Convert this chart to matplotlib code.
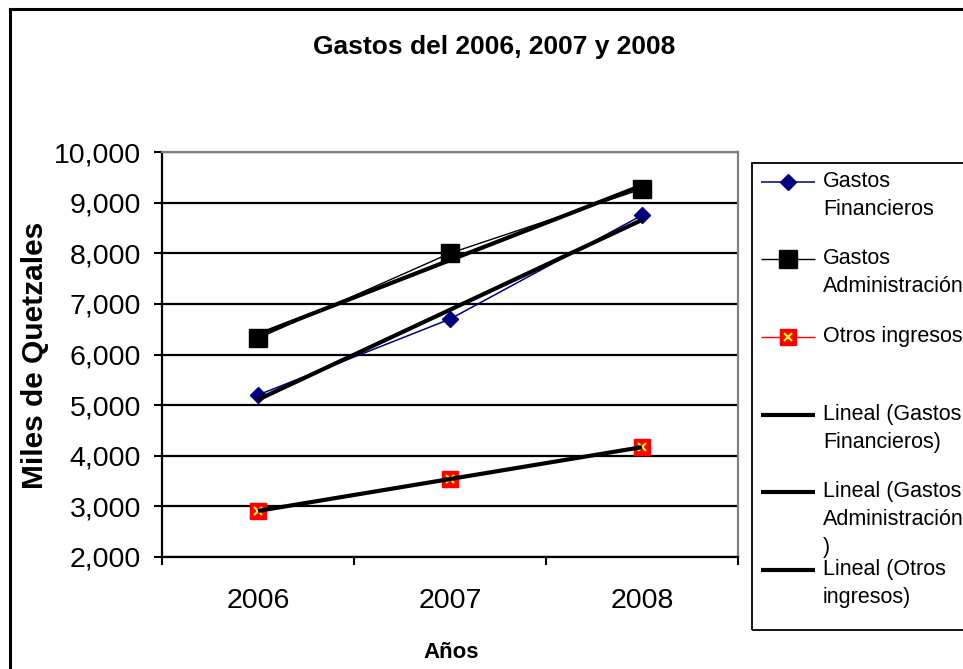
import numpy as np
import matplotlib
matplotlib.use('Agg')
import matplotlib.pyplot as plt
from matplotlib.lines import Line2D
from matplotlib.patches import Rectangle

plt.rcParams['font.family'] = ['Liberation Sans', 'DejaVu Sans']

# data (miles de quetzales)
years = ['2006', '2007', '2008']
gastos_financieros = [5200, 6700, 8750]
gastos_admin = [6320, 8000, 9270]
otros_ingresos = [2910, 3540, 4170]

yticks = list(range(2000, 10001, 1000))

W, H = 963, 669
fig = plt.figure(figsize=(W / 100, H / 100), dpi=100)

def fx(px):
    return px / W

def fy(py):
    return 1 - py / H

ax = fig.add_axes([fx(162), fy(557), fx(738) - fx(162), fy(152) - fy(557)])
x = np.arange(1, len(years) + 1)

# series
ax.plot(x, gastos_financieros, color='#000080', lw=1.1, marker='D', ms=8.5, zorder=3)
ax.plot(x, gastos_admin, color='black', lw=1.0, marker='s', ms=13, zorder=3)
ax.plot(x, otros_ingresos, color='red', lw=1.0, marker='s', ms=12,
        markerfacecolor='red', markeredgecolor='red', zorder=3)
ax.plot(x, otros_ingresos, ls='none', marker='x', ms=6, mew=1.5, color='yellow', zorder=4)

# linear trend lines
for serie in [gastos_financieros, gastos_admin, otros_ingresos]:
    m, b = np.polyfit(x, serie, 1)
    ax.plot(x, m * x + b, color='black', lw=3.0, zorder=5, solid_capstyle='butt')

ax.set_xlim(0.5, 3.5)
ax.set_ylim(2000, 10000)
ax.set_yticks(yticks)
ax.set_yticklabels([f'{v:,}' for v in yticks])
ax.set_xticks(x)
ax.set_xticklabels(years)
ax.set_xticks(np.arange(0.5, 3.6, 1.0), minor=True)

ax.yaxis.grid(True, color='black', lw=1.6)
ax.set_axisbelow(True)
ax.tick_params(axis='y', length=6, width=1.5, pad=9, labelsize=20.5)
ax.tick_params(axis='x', which='major', length=0, pad=22, labelsize=20.5)
ax.tick_params(axis='x', which='minor', length=6, width=1.5)

for s in ['left', 'bottom']:
    ax.spines[s].set_color('black')
    ax.spines[s].set_linewidth(1.6)
for s in ['top', 'right']:
    ax.spines[s].set_color('#808080')
    ax.spines[s].set_linewidth(1.6)

# titles
fig.text(fx(494), fy(47), 'Gastos del 2006, 2007 y 2008', ha='center', va='center',
         fontsize=19, fontweight='bold')
fig.text(fx(35), fy(355), 'Miles de Quetzales', rotation=90, ha='center', va='center',
         fontsize=21.5, fontweight='bold')
fig.text(fx(451), fy(653), 'Años', ha='center', va='center', fontsize=16, fontweight='bold')

# outer chart border
fig.add_artist(Line2D([fx(10), fx(10)], [fy(9), 0], transform=fig.transFigure, color='black', lw=2.2))
fig.add_artist(Line2D([fx(10), 1], [fy(9), fy(9)], transform=fig.transFigure, color='black', lw=2.2))

# legend box
fig.add_artist(Rectangle((fx(752), fy(630)), 0.3, fy(163) - fy(630), transform=fig.transFigure,
                         fill=False, edgecolor='black', lw=1.3))

labels = ['Gastos\nFinancieros', 'Gastos\nAdministración', 'Otros ingresos',
          'Lineal (Gastos\nFinancieros)', 'Lineal (Gastos\nAdministración\n)',
          'Lineal (Otros\ningresos)']
handle_y = [182, 259, 337, 415, 492, 570]
styles = [
    dict(color='#000080', lw=1.1, marker='D', ms=8.5),
    dict(color='black', lw=1.0, marker='s', ms=13),
    dict(color='red', lw=1.0, marker='s', ms=12),
    dict(color='black', lw=3.0),
    dict(color='black', lw=3.0),
    dict(color='black', lw=3.0),
]
for lab, hy, st in zip(labels, handle_y, styles):
    st = dict(st)
    mk = st.pop('marker', None)
    ms = st.pop('ms', None)
    fig.add_artist(Line2D([fx(761), fx(815)], [fy(hy), fy(hy)], transform=fig.transFigure,
                          solid_capstyle='butt', **st))
    if mk:
        fig.add_artist(Line2D([fx(788)], [fy(hy)], transform=fig.transFigure,
                              marker=mk, ms=ms, color=st['color'], ls='none'))
    if lab.startswith('Otros'):
        fig.add_artist(Line2D([fx(788)], [fy(hy)], transform=fig.transFigure,
                              marker='x', ms=6, mew=1.5, color='yellow', ls='none'))
    fig.text(fx(823), fy(hy - 11), lab, ha='left', va='top', fontsize=15.5,
             linespacing=1.45)

fig.savefig('out.png', dpi=100)
